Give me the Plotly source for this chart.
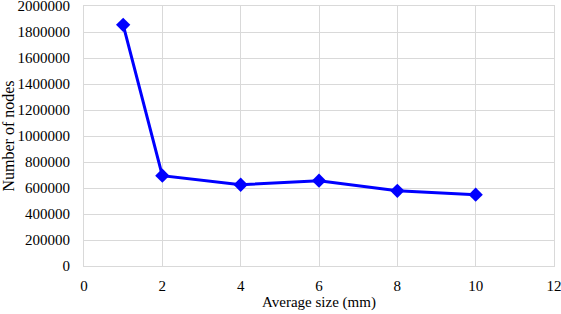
import plotly.graph_objects as go

avg_size = [1, 2, 4, 6, 8, 10]
num_nodes = [1855000, 695000, 625000, 656000, 578000, 549000]

fig = go.Figure()
fig.add_trace(go.Scatter(
    x=avg_size, y=num_nodes, mode="lines+markers",
    line=dict(color="#0000FF", width=3),
    marker=dict(symbol="diamond", size=11, color="#0000FF"),
    showlegend=False, cliponaxis=False,
))

grid = "#d9d9d9"
serif = "Liberation Serif"
tf = dict(family=serif, size=15, color="black")
fig.update_layout(
    width=561, height=314,
    margin=dict(l=84, r=7, t=6, b=48),
    paper_bgcolor="white", plot_bgcolor="white",
    font=dict(family=serif, size=15, color="black"),
    xaxis=dict(range=[0, 12], tickvals=[0, 2, 4, 6, 8, 10, 12], showgrid=True, gridcolor=grid,
               gridwidth=1, zeroline=True, zerolinecolor=grid, zerolinewidth=1,
               showline=True, linecolor=grid, mirror=True, ticks="", tickfont=tf,
               automargin=False, ticklabeloverflow="allow", ticklabelstandoff=6,
               title=dict(text="Average size (mm)", standoff=2, font=tf)),
    yaxis=dict(range=[0, 2000000], tickvals=list(range(0, 2000001, 200000)),
               tickformat="d", showgrid=True, gridcolor=grid, gridwidth=1,
               zeroline=True, zerolinecolor=grid, zerolinewidth=1,
               showline=True, linecolor=grid, mirror=True, ticks="", tickfont=tf,
               automargin=False, ticklabeloverflow="allow", ticklabelstandoff=10,
               title=dict(text="Number of nodes", standoff=3,
                          font=dict(family=serif, size=16, color="black"))),
)
fig.write_html("out.html", config={"displayModeBar": False},
               post_script="document.body.style.margin='0';")
